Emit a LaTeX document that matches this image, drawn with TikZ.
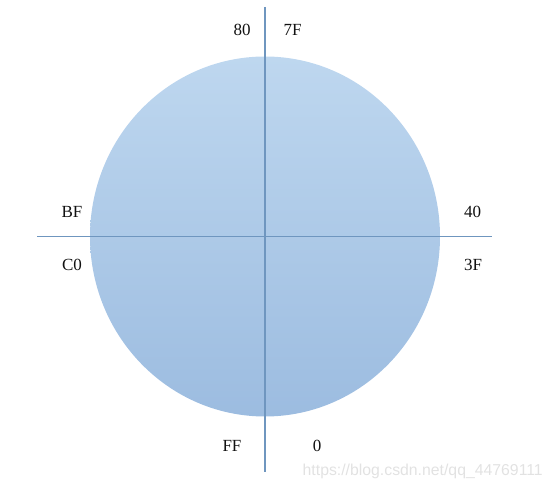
\documentclass[tikz,border=0pt]{standalone}
\usepackage{fontspec}
\setmainfont{Liberation Serif}
\newfontfamily\markfont{Liberation Sans}
\usepackage{tikz}
\usetikzlibrary{positioning,calc}
\definecolor{disctop}{HTML}{BED7EF}
\definecolor{discbottom}{HTML}{9CBCE0}
\definecolor{axisline}{HTML}{6F96BF}
\definecolor{labelink}{HTML}{111111}
\definecolor{markgray}{HTML}{E2E2E2}

\begin{document}
\begin{tikzpicture}[x=1pt,y=-1pt,
    hexlabel/.style={font=\fontsize{17}{20}\selectfont,text=labelink,inner sep=0pt},
    axis/.style={draw=axisline,line width=1.8pt}]
  \useasboundingbox (0,0) rectangle (550,489);
  % disc
  \coordinate (o) at (265,236.5);
  \shade[top color=disctop,bottom color=discbottom] (o) ellipse [x radius=175pt,y radius=180pt];
  % axes
  \coordinate (top) at (265,7);
  \coordinate (bottom) at (265,472);
  \coordinate (left) at (37,236.5);
  \coordinate (right) at (492,236.5);
  \draw[axis] (top) -- (bottom);
  \draw[axis] (left) -- (right);
  % byte values round the disc
  \node[hexlabel] (h80) at (242,30) {80};
  \node[hexlabel] (h7F) at (292.5,30) {7F};
  \node[hexlabel] (hBF) at (72,212) {BF};
  \node[hexlabel] (hC0) at (72,264.5) {C0};
  \node[hexlabel] (h40) at (472.5,212) {40};
  \node[hexlabel] (h3F) at (473,264.5) {3F};
  \node[hexlabel] (hFF) at (232,446) {FF};
  \node[hexlabel] (h00) at (317,446) {0};
  \node[font=\markfont\fontsize{15.8}{18}\selectfont,text=markgray,inner sep=0pt,anchor=east] (mark) at (543,471.5) {https://blog.csdn.net/qq\_44769111};
\end{tikzpicture}
\end{document}
